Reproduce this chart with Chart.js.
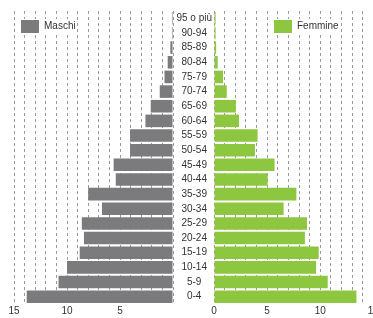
<!DOCTYPE html>
<html>
<head>
<meta charset="utf-8">
<script src="https://cdn.jsdelivr.net/npm/chart.js@4/dist/chart.umd.min.js"></script>
<style>
  html, body { margin: 0; padding: 0; background: #fff; overflow: hidden; }
  #wrap { position: relative; width: 373px; height: 318px; overflow: hidden; }
  .side { position: absolute; top: 0; height: 318px; }
  #leftSide { left: 0; width: 180px; }
  #rightSide { left: 174px; width: 232px; }
</style>
</head>
<body>
<div id="wrap">
  <div class="side" id="leftSide"><canvas id="maschiChart"></canvas></div>
  <div class="side" id="rightSide"><canvas id="femmineChart"></canvas></div>
</div>
<script>
// age groups, youngest first (drawn bottom to top)
const ageGroups = ['0-4', '5-9', '10-14', '15-19', '20-24', '25-29', '30-34', '35-39', '40-44', '45-49',
  '50-54', '55-59', '60-64', '65-69', '70-74', '75-79', '80-84', '85-89', '90-94', '95 o più'];
const maschi = [13.8, 10.8, 10.0, 8.8, 8.4, 8.6, 6.7, 8.0, 5.4, 5.6,
  4.05, 4.05, 2.6, 2.1, 1.25, 0.8, 0.5, 0.25, 0.1, 0.1];
const femmine = [13.4, 10.7, 9.6, 9.85, 8.55, 8.75, 6.55, 7.75, 5.05, 5.7,
  3.85, 4.1, 2.35, 2.05, 1.2, 0.85, 0.35, 0.2, 0.15, 0.15];
const leftTickLabels = [5, 10, 15];
const rightTickLabels = [0, 5, 10, 15];

Chart.defaults.font.family = '"Liberation Sans", Arial, sans-serif';
Chart.defaults.font.size = 10;
Chart.defaults.color = '#333';
Chart.defaults.animation = false;

// legend sits inside the plot, nudged into place and redrawn over the dashed grid
const legendOnTop = {
  id: 'legendOnTop',
  afterLayout(chart, args, opts) {
    chart.legend.left += opts.dx || 0;
    chart.legend.top += opts.dy || 0;
  },
  afterDraw(chart) {
    const lg = chart.legend;
    const ctx = chart.ctx;
    ctx.save();
    ctx.fillStyle = '#fff';
    lg.legendHitBoxes.forEach(b => ctx.fillRect(b.left - 1, b.top - 1, b.width + 2, b.height + 2));
    ctx.restore();
    lg.draw();
  }
};

function xAxis(reverse, max, labels) {
  return {
    type: 'linear',
    reverse: reverse,
    min: 0,
    max: max,
    z: 1,
    grid: { color: '#9a9a9a', drawTicks: false },
    border: { display: false, dash: [3, 3] },
    ticks: {
      stepSize: 1,
      autoSkip: false,
      maxRotation: 0,
      padding: 1,
      color: '#333',
      callback: v => labels.includes(v) ? v : ''
    }
  };
}

const legendLabels = { boxWidth: 18, boxHeight: 13, padding: 8, color: '#333', font: { size: 10 } };

new Chart(document.getElementById('maschiChart'), {
  type: 'bar',
  data: {
    labels: ageGroups,
    datasets: [{
      label: 'Maschi',
      data: maschi,
      backgroundColor: '#7b7b7d',
      borderWidth: 0,
      barPercentage: 0.86,
      categoryPercentage: 1
    }]
  },
  options: {
    indexAxis: 'y',
    responsive: true,
    maintainAspectRatio: false,
    layout: { padding: { left: 14, right: 7, top: 11, bottom: 0 } },
    scales: {
      x: xAxis(true, 15, leftTickLabels),
      y: { display: false, reverse: true }
    },
    plugins: {
      legend: { position: 'chartArea', align: 'start', labels: legendLabels },
      legendOnTop: { dx: -1, dy: 12 },
      tooltip: { enabled: false }
    }
  },
  plugins: [legendOnTop]
});

new Chart(document.getElementById('femmineChart'), {
  type: 'bar',
  data: {
    labels: ageGroups,
    datasets: [{
      label: 'Femmine',
      data: femmine,
      backgroundColor: '#8dc63f',
      borderWidth: 0,
      barPercentage: 0.86,
      categoryPercentage: 1
    }]
  },
  options: {
    indexAxis: 'y',
    responsive: true,
    maintainAspectRatio: false,
    layout: { padding: { left: 0, right: 6, top: 11, bottom: 0 } },
    scales: {
      x: xAxis(false, 17.5, rightTickLabels),
      y: {
        reverse: true,
        grid: { display: false, drawTicks: false },
        border: { display: false },
        ticks: { crossAlign: 'center', padding: 2, color: '#333', autoSkip: false },
        afterFit: s => { s.width = 40; }
      }
    },
    plugins: {
      legend: { position: 'chartArea', align: 'start', labels: legendLabels },
      legendOnTop: { dx: 52, dy: 12 },
      tooltip: { enabled: false }
    }
  },
  plugins: [legendOnTop]
});
</script>
</body>
</html>
